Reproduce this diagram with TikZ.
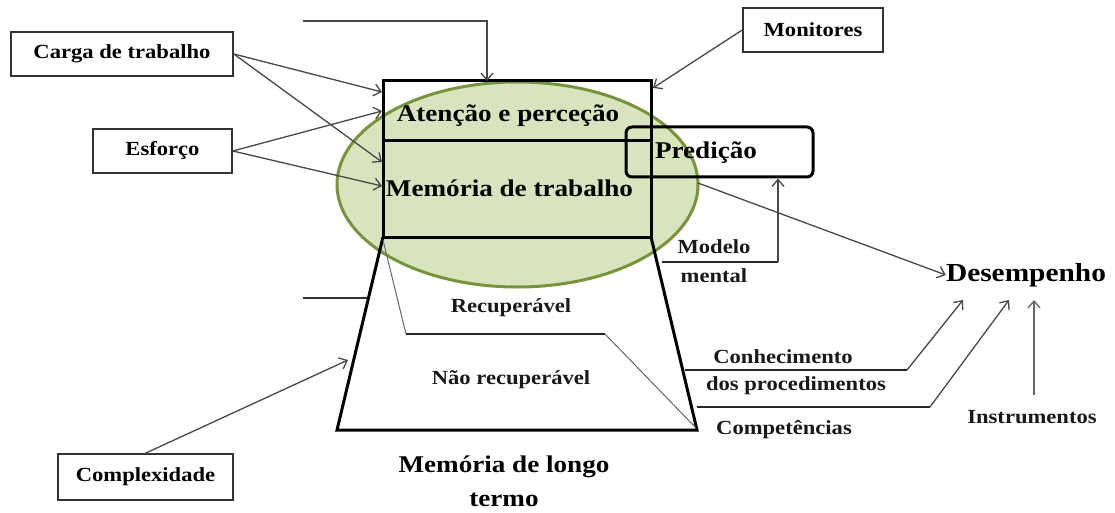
\documentclass[tikz,border=0pt]{standalone}
\usepackage{fontspec}
\setmainfont{Liberation Serif}[FakeStretch=1.13]
\usetikzlibrary{arrows.meta}
\definecolor{ellfill}{HTML}{D7E4BD}
\definecolor{elldraw}{HTML}{77933C}
\tikzset{
  small/.style={font=\fontsize{20}{22}\selectfont\bfseries, inner sep=0pt, text=black!90},
  big/.style={font=\fontsize{24}{26}\selectfont\bfseries, inner sep=0pt},
  lbox/.style={draw=black!80, line width=1.6pt, inner sep=0pt, minimum height=44pt, font=\fontsize{20}{22}\selectfont\bfseries},
  arr/.style={draw=black!72, line width=1.3pt, -{Straight Barb[length=7pt,width=12pt,line width=1.3pt]}},
  thick line/.style={draw=black!85, line width=1.8pt},
  mainline/.style={draw=black, line width=3pt},
}
\begin{document}
\begin{tikzpicture}[x=1pt,y=-1pt]
\useasboundingbox (0,0) rectangle (1115,513);
% ellipse
\fill[ellfill] (517.5,184.5) ellipse [x radius=180.5, y radius=102.5];
\draw[elldraw, line width=3pt] (517.5,184.5) ellipse [x radius=180.5, y radius=102.5];
% main box
\coordinate (bTL) at (383,81);
\coordinate (bTR) at (651,81);
\coordinate (bML) at (383,141);
\coordinate (bMR) at (651,141);
\coordinate (bBL) at (383,237);
\coordinate (bBR) at (651,237);
\coordinate (tBL) at (337,430);
\coordinate (tBR) at (697,430);
\draw[mainline, line join=miter] (bTL) rectangle (bBR);
\draw[mainline] (bML) -- (bMR);
\draw[mainline, line join=miter] (bBL) -- (tBL) -- (tBR) -- (bBR);
% gray inner line
\coordinate (g1) at (406,334);
\coordinate (g2) at (605,334);
\draw[draw=black!60, line width=1pt] (383,240) -- (g1);
\draw[draw=black!85, line width=1.6pt] (g1) -- (g2);
\draw[draw=black!60, line width=1pt] (g2) -- (696,428);
% texts inside
\node[big] (att) at (508,116) {Atenção e perceção};
\node[big] (mem) at (509.5,188) {Memória de trabalho};
\node[small] (rec) at (511,308) {Recuperável};
\node[small] (nrec) at (511,380) {Não recuperável};
\node[big] (mlt1) at (504,467) {Memória de longo};
\node[big] (mlt2) at (504,500) {termo};
% predicao
\node[draw=black, line width=3pt, rounded corners=6pt, minimum width=187pt, minimum height=50pt, inner sep=0pt] (predbox) at (719.5,152) {};
\node[big] (pred) at (706,153) {Predição};
% desempenho
\node[font=\fontsize{26}{28}\selectfont\bfseries, inner sep=0pt] (des) at (1026,275) {Desempenho};
% left boxes
\node[lbox, minimum width=222pt] (carga) at (122,54) {Carga de trabalho};
\node[lbox, minimum width=139pt] (esf) at (162.5,151) {Esforço};
\node[lbox, minimum width=175pt, minimum height=46pt] (comp) at (145.5,477) {Complexidade};
\node[lbox, minimum width=140pt] (mon) at (813,30) {Monitores};
% arrows from left boxes
\draw[arr] (carga.east) -- (382,92);
\draw[arr] (carga.east) -- (382,162);
\draw[arr] (esf.east) -- (382,111);
\draw[arr] (esf.east) -- (382,186);
\draw[arr] (comp.north) -- (348,360);
\draw[arr] (mon.west) -- (653,88);
% top arrow
\coordinate (top0) at (303,21);
\draw[arr, line width=1.6pt] (top0) -| (487,81);
% left stub line
\coordinate (stub0) at (303,298);
\draw[draw=black!80, line width=1.5pt] (stub0) -- (367,298);
% modelo mental
\node[small] (mod1) at (714,247) {Modelo};
\node[small] (mod2) at (714,276) {mental};
\coordinate (mm0) at (662,262);
\coordinate (mm1) at (778,262);
\draw[thick line] (mm0) -- (mm1);
\draw[arr, line width=1.4pt] (mm1) -- (mm1 |- predbox.south);
% predicao to desempenho
\draw[arr] (698,183) -- (des.west);
% conhecimento
\node[small] (con1) at (783,357) {Conhecimento};
\node[small] (con2) at (796,386) {dos procedimentos};
\coordinate (c0) at (685,370);
\coordinate (c1) at (907,370);
\draw[thick line] (c0) -- (c1);
\draw[arr] (c1) -- (963,300);
% competencias
\node[small] (cmp) at (784,430) {Competências};
\coordinate (k0) at (697,407);
\coordinate (k1) at (930,407);
\draw[thick line] (k0) -- (k1);
\draw[arr] (k1) -- (1009,300);
% instrumentos
\node[small] (ins) at (1032,417) {Instrumentos};
\draw[arr, draw=black!60] (1034,395) -- (1034,300);
\end{tikzpicture}
\end{document}
